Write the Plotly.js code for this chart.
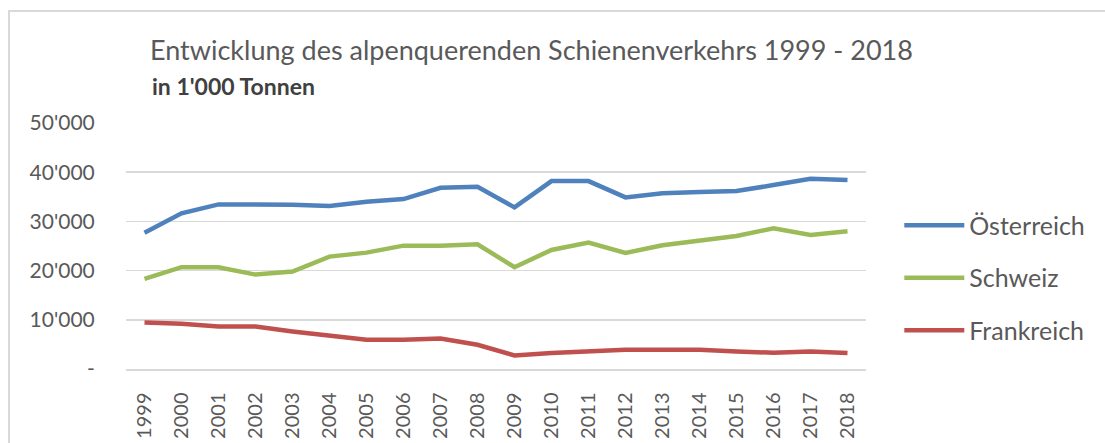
<!DOCTYPE html>
<html>
<head>
<meta charset="utf-8">
<script src="https://cdn.plot.ly/plotly-3.0.1.min.js"></script>
<style>
  html, body { margin: 0; padding: 0; background: #ffffff; }
  #frame { position: absolute; left: 8px; top: 10px; width: 1105px; height: 443px;
           border-left: 2px solid #d9d9d9; border-top: 2px solid #d9d9d9; box-sizing: border-box; pointer-events: none; }
  #chart { width: 1105px; height: 443px; }
</style>
</head>
<body>
<div id="chart"></div>
<div id="frame"></div>
<script>
const years = ["1999","2000","2001","2002","2003","2004","2005","2006","2007","2008",
               "2009","2010","2011","2012","2013","2014","2015","2016","2017","2018"];
const oesterreich = [27700,31640,33460,33460,33400,33120,34000,34540,36830,37040,
                     32850,38190,38190,34880,35700,35960,36160,37380,38660,38390];
const schweiz = [18310,20690,20690,19190,19800,22840,23650,25070,25070,25350,
                 20690,24200,25680,23590,25150,26020,27030,28600,27240,27990];
const frankreich = [9450,9190,8640,8640,7630,6890,5940,5940,6210,4930,
                    2760,3240,3570,3910,3910,3910,3570,3300,3570,3240];
const seriesNames = ["Österreich","Schweiz","Frankreich"];
const seriesColors = ["#4F81BD","#9BBB59","#C0504D"];
const yTickVals = [0,10000,20000,30000,40000,50000];
const yTickText = ["-","10'000","20'000","30'000","40'000","50'000"];
const titleText = "Entwicklung des alpenquerenden Schienenverkehrs 1999 - 2018";
const subtitleText = "in 1'000 Tonnen";

const FONT = "Lato, 'Open Sans', sans-serif";
const seriesValues = [oesterreich, schweiz, frankreich];
const traces = seriesValues.map((vals, i) => ({
  type: "scatter", mode: "lines", x: years, y: vals, name: seriesNames[i],
  legendgroup: seriesNames[i],
  line: { color: seriesColors[i], width: 4.5 }
}));

const layout = {
  width: 1105, height: 443,
  margin: { l: 126, r: 239, t: 123, b: 74, pad: 0 },
  paper_bgcolor: "#ffffff", plot_bgcolor: "#ffffff",
  font: { family: FONT, color: "#595959", size: 20 },
  title: {
    text: titleText, xref: "container", yref: "container",
    x: 150/1105, xanchor: "left", y: 1 - 51/443, yanchor: "middle",
    font: { family: FONT, size: 27, color: "#595959" }
  },
  annotations: [{
    text: "<b>" + subtitleText + "</b>", xref: "paper", yref: "paper",
    x: (150-126)/740, xanchor: "left", y: 1.152, yanchor: "middle", showarrow: false,
    font: { family: FONT, size: 23, color: "#404040" }
  }],
  xaxis: {
    type: "category", range: [-0.5, 19.5], tickangle: -90,
    showgrid: false, showline: true, linecolor: "#d9d9d9", linewidth: 1.5,
    ticks: "outside", ticklen: 14, tickcolor: "rgba(0,0,0,0)",
    tickfont: { family: FONT, size: 20, color: "#595959" }, zeroline: false
  },
  yaxis: {
    range: [0, 50000], tickvals: yTickVals, ticktext: yTickText,
    showgrid: true, gridcolor: "#d9d9d9", gridwidth: 1.5, zeroline: false, showline: false,
    ticks: "outside", ticklen: 26, tickcolor: "rgba(0,0,0,0)",
    tickfont: { family: FONT, size: 21, color: "#595959" }
  },
  legend: {
    x: 1.045, xanchor: "left", y: 0.37, yanchor: "middle",
    font: { family: FONT, size: 25, color: "#595959" },
    traceorder: "grouped", tracegroupgap: 17, itemwidth: 60,
    bgcolor: "rgba(0,0,0,0)"
  },
  showlegend: true
};

Plotly.newPlot("chart", traces, layout, { displayModeBar: false, staticPlot: true });
</script>
</body>
</html>
